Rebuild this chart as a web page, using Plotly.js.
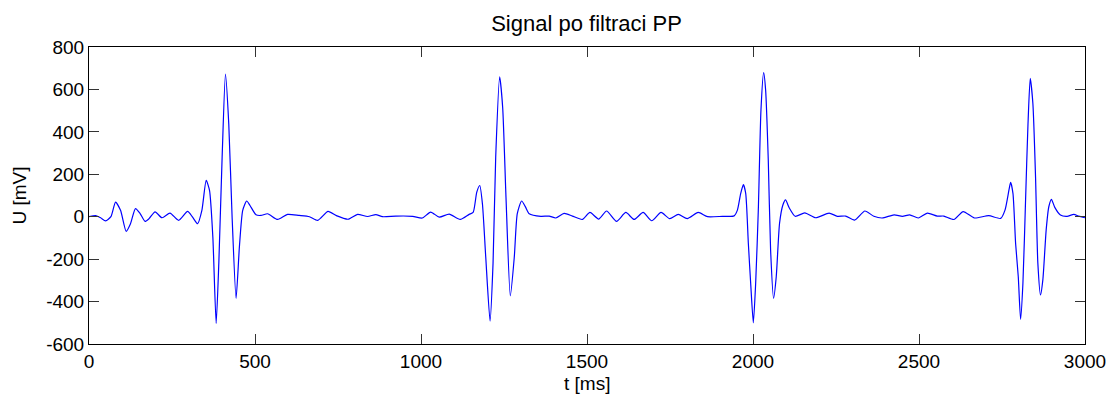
<!DOCTYPE html>
<html>
<head>
<meta charset="utf-8">
<script src="https://cdn.plot.ly/plotly-3.0.1.min.js"></script>
<style>
  html, body { margin: 0; padding: 0; background: #fff; }
  #chart { width: 1112px; height: 396px; }
</style>
</head>
<body>
<div id="chart"></div>
<script>
// time in ms
const timeMs = [0,20,35,50,66,80,95,112,125,140,154,169,181,199,220,244,270,297,312,327,340,353,363,373,383,391,401,411,421,431,443,453,463,475,485,503,518,538,568,598,633,664,689,720,745,780,809,839,864,884,924,975,1004,1029,1055,1085,1118,1145,1157,1168,1177,1185,1195,1208,1217,1225,1237,1246,1256,1269,1281,1290,1303,1315,1326,1361,1386,1406,1431,1456,1486,1509,1535,1559,1589,1617,1642,1669,1695,1723,1749,1775,1802,1835,1863,1908,1943,1953,1963,1971,1978,1986,1993,2001,2008,2016,2024,2032,2038,2046,2053,2062,2070,2080,2090,2098,2109,2127,2156,2189,2229,2254,2279,2306,2337,2364,2389,2425,2450,2472,2498,2525,2555,2575,2605,2633,2667,2710,2746,2759,2771,2776,2783,2791,2799,2806,2813,2821,2828,2835,2843,2851,2858,2866,2873,2883,2891,2899,2909,2926,2946,2966,2981,3000];
// voltage in mV
const voltage = [0,5,-5,-20,0,69,30,-69,-33,38,15,-22,-9,23,-5,17,-17,25,-2,-33,30,171,124,-96,-503,-220,280,672,437,0,-385,-142,30,74,53,9,6,14,-13,11,6,0,-17,25,5,-12,11,1,10,0,3,2,-6,22,-2,12,-13,11,20,116,147,61,-190,-492,-220,280,659,515,92,-373,-190,14,74,45,14,2,3,-6,16,3,-13,20,-11,27,-22,20,-13,20,-19,20,-9,11,-9,20,0,2,4,31,110,151,110,-126,-314,-500,-314,31,503,679,597,267,-157,-385,-283,-31,55,79,42,2,18,-5,17,2,3,-16,27,2,-6,9,2,9,-6,17,3,3,-13,24,-6,5,-8,31,126,162,110,-126,-283,-484,-314,79,424,652,534,189,-220,-369,-298,-63,47,82,44,8,2,11,3,-5];

const xTicks = [0,500,1000,1500,2000,2500,3000];
const yTicks = [-600,-400,-200,0,200,400,600,800];

const font = 'Liberation Sans, Arial, Helvetica, sans-serif';

const trace = {
  x: timeMs,
  y: voltage,
  type: 'scatter',
  mode: 'lines',
  line: { color: '#0000ff', width: 1.2, shape: 'spline', smoothing: 0.6 },
  hoverinfo: 'x+y'
};

const layout = {
  width: 1112,
  height: 396,
  margin: { l: 89, r: 27, t: 47, b: 52 },
  paper_bgcolor: '#ffffff',
  plot_bgcolor: '#ffffff',
  showlegend: false,
  font: { family: font, size: 19, color: '#000' },
  title: {
    text: 'Signal po filtraci PP',
    font: { family: font, size: 22, color: '#000' },
    x: 0.5275, xanchor: 'center',
    y: 0.94, yanchor: 'middle', yref: 'container'
  },
  xaxis: {
    range: [0, 3000],
    tickvals: xTicks,
    ticktext: xTicks.map(String),
    ticks: 'inside', ticklen: 10, tickwidth: 1, tickcolor: '#333',
    showline: true, linecolor: '#000', linewidth: 1, mirror: 'ticks',
    showgrid: false, zeroline: false,
    tickfont: { family: font, size: 19, color: '#000' },
    automargin: false,
    fixedrange: true
  },
  yaxis: {
    range: [-600, 800],
    tickvals: yTicks,
    ticktext: yTicks.map(String),
    ticks: 'inside', ticklen: 10, tickwidth: 1, tickcolor: '#333',
    showline: true, linecolor: '#000', linewidth: 1, mirror: 'ticks',
    showgrid: false, zeroline: false,
    tickfont: { family: font, size: 19, color: '#000' },
    title: { text: 'U [mV]', font: { family: font, size: 19, color: '#000' }, standoff: 14 },
    automargin: false,
    fixedrange: true
  },
  annotations: [{
    text: 't [ms]',
    xref: 'paper', yref: 'paper',
    x: 0.5, y: 0, xanchor: 'center', yanchor: 'top',
    yshift: -27,
    showarrow: false,
    font: { family: font, size: 19, color: '#000' }
  }]
};

Plotly.newPlot('chart', [trace], layout, { displayModeBar: false, staticPlot: true });
</script>
</body>
</html>
